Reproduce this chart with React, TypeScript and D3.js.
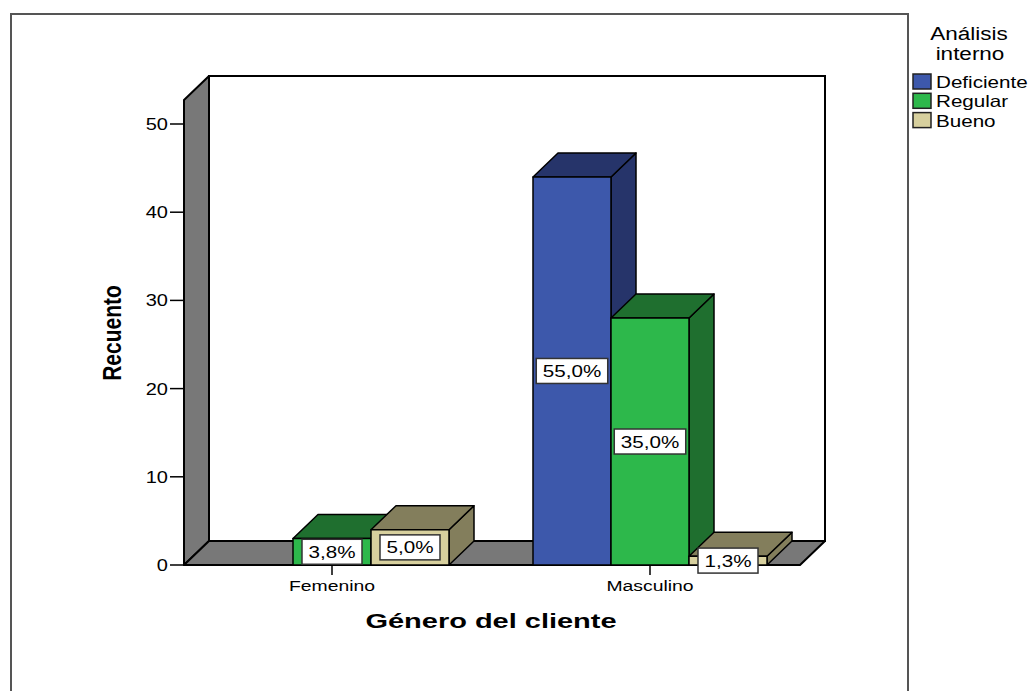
import React from 'react';
import * as d3 from 'd3';

const categories = ['Femenino', 'Masculino'];
const series = ['Deficiente', 'Regular', 'Bueno'];
// counts[categoryIndex][seriesIndex]
const counts: number[][] = [
  [0, 3, 4],
  [44, 28, 1],
];
const percentLabels: string[][] = [
  ['', '3,8%', '5,0%'],
  ['55,0%', '35,0%', '1,3%'],
];
const yTicks = [0, 10, 20, 30, 40, 50];
const frontColors = ['#3d58ab', '#2db84b', '#d7d09e'];
const darkColors = ['#26346a', '#1f6f2f', '#837e5c'];

const W = 1031;
const H = 691;
const SX = 1.25;
const FONT = "'Liberation Sans', Arial, Helvetica, sans-serif";
const DX = 25;
const DY = 24;

const floorY = 565;
const axisX = 184;
const floorRight = 800;
const wallTop = 76;

const y = d3.scaleLinear().domain([0, 50]).range([floorY, 124]);
const xCat = d3.scaleBand<string>().domain(categories).range([173, 809]);
const xSer = d3.scaleBand<string>().domain(series).range([-117, 117]);

const charEm: Record<string, number> = { ',': 0.278, '%': 0.889, '.': 0.278 };
function textEm(s: string) {
  let e = 0;
  for (const c of s) e += charEm[c] ?? 0.556;
  return e;
}

type TProps = {
  x: number;
  y: number;
  size: number;
  anchor?: 'start' | 'middle' | 'end';
  bold?: boolean;
  sx?: number;
  children: React.ReactNode;
};
function T({ x, y, size, anchor = 'start', bold = false, sx = SX, children }: TProps) {
  return (
    <text
      transform={`translate(${x},${y}) scale(${sx},1)`}
      fontSize={size}
      textAnchor={anchor}
      fontWeight={bold ? 'bold' : 'normal'}
      fontFamily={FONT}
      fill="#000"
    >
      {children}
    </text>
  );
}

function pts(p: [number, number][]) {
  return p.map((d) => d.join(',')).join(' ');
}

export default function App() {
  const bars: React.ReactNode[] = [];
  const labels: React.ReactNode[] = [];
  categories.forEach((cat, ci) => {
    const cx = (xCat(cat) as number) + xCat.bandwidth() / 2;
    series.forEach((ser, si) => {
      const v = counts[ci][si];
      if (v <= 0) return;
      const x0 = cx + (xSer(ser) as number);
      const x1 = x0 + xSer.bandwidth();
      const yt = y(v);
      const yb = y(0);
      bars.push(
        <g key={`b-${ci}-${si}`} stroke="#000" strokeWidth={1.5} strokeLinejoin="round">
          <polygon
            points={pts([[x1, yt], [x1 + DX, yt - DY], [x1 + DX, yb - DY], [x1, yb]])}
            fill={darkColors[si]}
          />
          <polygon
            points={pts([[x0, yt], [x0 + DX, yt - DY], [x1 + DX, yt - DY], [x1, yt]])}
            fill={darkColors[si]}
          />
          <rect x={x0} y={yt} width={x1 - x0} height={yb - yt} fill={frontColors[si]} />
        </g>
      );
      const lab = percentLabels[ci][si];
      if (lab) {
        const fs = 16.5;
        const bw = textEm(lab) * fs * SX + 13;
        const yc = y(v / 2);
        const lx = (x0 + x1) / 2;
        labels.push(
          <g key={`l-${ci}-${si}`}>
            <rect
              x={lx - bw / 2}
              y={yc - 12.5}
              width={bw}
              height={25}
              fill="#fff"
              stroke="#333"
              strokeWidth={1.5}
            />
            <T x={lx} y={yc + 6} size={fs} anchor="middle">
              {lab}
            </T>
          </g>
        );
      }
    });
  });

  return (
    <svg
      width={W}
      height={H}
      style={{ position: 'absolute', left: 0, top: 0, background: '#fff' }}
      xmlns="http://www.w3.org/2000/svg"
    >
      <rect x={0} y={0} width={W} height={H} fill="#fff" />
      {/* outer frame */}
      <rect x={11} y={14} width={897} height={H} fill="none" stroke="#555" strokeWidth={2} />

      {/* back wall */}
      <rect
        x={axisX + DX}
        y={wallTop}
        width={floorRight - axisX}
        height={floorY - DY - wallTop}
        fill="#fff"
        stroke="#000"
        strokeWidth={2}
      />
      {/* side wall */}
      <polygon
        points={pts([
          [axisX, wallTop + DY],
          [axisX + DX, wallTop],
          [axisX + DX, floorY - DY],
          [axisX, floorY],
        ])}
        fill="#787878"
        stroke="#000"
        strokeWidth={2}
        strokeLinejoin="round"
      />
      {/* floor */}
      <polygon
        points={pts([
          [axisX, floorY],
          [axisX + DX, floorY - DY],
          [floorRight + DX, floorY - DY],
          [floorRight, floorY],
        ])}
        fill="#787878"
        stroke="#000"
        strokeWidth={2}
        strokeLinejoin="round"
      />

      {/* y ticks */}
      {yTicks.map((t) => (
        <g key={`t-${t}`}>
          <line x1={170} x2={axisX} y1={y(t)} y2={y(t)} stroke="#000" strokeWidth={1.5} />
          <T x={168} y={y(t) + 6} size={16} anchor="end">
            {String(t)}
          </T>
        </g>
      ))}

      {/* x ticks and labels */}
      {categories.map((c) => {
        const cx = (xCat(c) as number) + xCat.bandwidth() / 2;
        return (
          <g key={`c-${c}`}>
            <line x1={cx} x2={cx} y1={floorY} y2={floorY + 10} stroke="#000" strokeWidth={1.5} />
            <T x={cx} y={591} size={15.5} anchor="middle">
              {c}
            </T>
          </g>
        );
      })}

      {bars}
      {labels}

      {/* axis titles */}
      <text
        transform={`translate(121,333) rotate(-90) scale(1,1.25)`}
        fontSize={21}
        fontWeight="bold"
        textAnchor="middle"
        fontFamily={FONT}
        fill="#000"
      >
        Recuento
      </text>
      <T x={491} y={628} size={21} anchor="middle" bold sx={1.38}>
        Género del cliente
      </T>

      {/* legend */}
      <T x={969} y={40} size={18} anchor="middle">
        Análisis
      </T>
      <T x={970} y={60} size={18} anchor="middle">
        interno
      </T>
      {series.map((s, i) => (
        <g key={`lg-${s}`}>
          <rect
            x={913}
            y={74 + i * 19.3}
            width={18}
            height={15}
            fill={frontColors[i]}
            stroke="#222"
            strokeWidth={1.5}
          />
          <T x={936} y={88 + i * 19.3} size={16.5}>
            {s}
          </T>
        </g>
      ))}
    </svg>
  );
}
